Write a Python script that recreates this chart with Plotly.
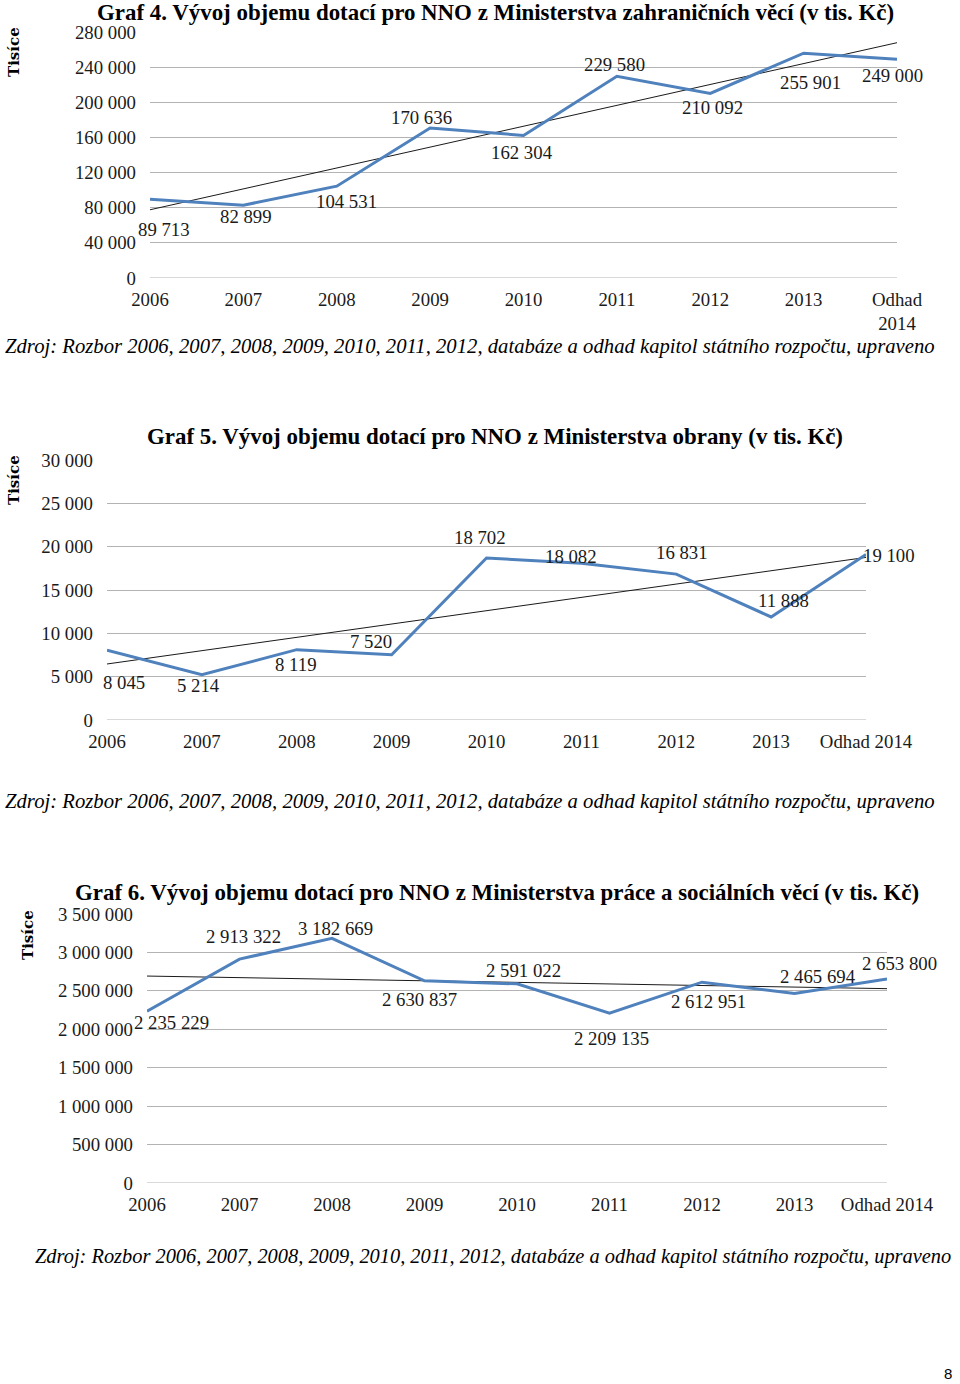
import numpy as np
import plotly.graph_objects as go

# ---------------- data ----------------
cats1 = ["2006", "2007", "2008", "2009", "2010", "2011", "2012", "2013", "Odhad<br>2014"]
vals1 = [89713, 82899, 104531, 170636, 162304, 229580, 210092, 255901, 249000]

cats2 = ["2006", "2007", "2008", "2009", "2010", "2011", "2012", "2013", "Odhad 2014"]
vals2 = [8045, 5214, 8119, 7520, 18702, 18082, 16831, 11888, 19100]

cats3 = ["2006", "2007", "2008", "2009", "2010", "2011", "2012", "2013", "Odhad 2014"]
vals3 = [2235229, 2913322, 3182669, 2630837, 2591022, 2209135, 2612951, 2465694, 2653800]

ticks1 = [0, 40000, 80000, 120000, 160000, 200000, 240000, 280000]
ticks2 = [0, 5000, 10000, 15000, 20000, 25000, 30000]
ticks3 = [0, 500000, 1000000, 1500000, 2000000, 2500000, 3000000, 3500000]

titles = [
    "Graf 4. Vývoj objemu dotací pro NNO z Ministerstva zahraničních věcí (v tis. Kč)",
    "Graf 5. Vývoj objemu dotací pro NNO z Ministerstva obrany (v tis. Kč)",
    "Graf 6. Vývoj objemu dotací pro NNO z Ministerstva práce a sociálních věcí (v tis. Kč)",
]
source = "Zdroj: Rozbor 2006, 2007, 2008, 2009, 2010, 2011, 2012, databáze a odhad kapitol státního rozpočtu, upraveno"
ylabel = "Tisíce"
page_no = "8"

# ---------------- style / layout (pixels, page coordinates) ----------------
W, H = 960, 1384
LINE_COLOR = "#4f81bd"
GRID_COLOR = "#b3b3b3"
SERIF = "Liberation Serif"
LBL = 18.8

# plot boxes: (x_left, x_right, y_top_px, y_bottom_px)
boxes = [(150, 897, 32, 278), (107, 866, 460, 720), (147, 887, 914, 1183)]
title_pos = [(495, 13), (495, 437), (497, 892)]
source_pos = [(3, 347), (3, 801), (33, 1256)]
source_size = [20.7, 20.7, 20.4]
ylabel_pos = [(14, 52), (14, 480), (28, 935)]

# label offsets (dx, dy in px, dy positive = down)
offs1 = [(14, 30), (3, 11), (10, 15), (-9, -11), (-2, 17), (-2, -12), (2, 14), (7, 29), (-5, 16)]
offs2 = [(17, 32), (-3, 11), (-1, 15), (-21, -13), (-7, -20), (-10, -7), (6, -22), (12, -16), (23, 1)]
offs3 = [(24, 11), (4, -23), (3, -10), (-5, 19), (6, -13), (2, 25), (6, 19), (23, -17), (12, -16)]


def fmt(v):
    return f"{v:,}".replace(",", " ")


def px_x(p):
    return p / W


def px_y(p):
    return 1 - p / H


fig = go.Figure()
datasets = [(cats1, vals1, ticks1, offs1), (cats2, vals2, ticks2, offs2), (cats3, vals3, ticks3, offs3)]
annotations = []

for i, (cats, vals, ticks, offs) in enumerate(datasets):
    n = i + 1
    xa = "x" if n == 1 else f"x{n}"
    ya = "y" if n == 1 else f"y{n}"
    xs = list(range(len(cats)))
    # trend line (least squares through the data)
    k, b = np.polyfit(xs, vals, 1)
    trend = [k * x + b for x in xs]
    fig.add_trace(go.Scatter(x=xs, y=trend, mode="lines", line=dict(color="#1a1a1a", width=1),
                             xaxis=xa, yaxis=ya, showlegend=False, hoverinfo="skip", cliponaxis=False))
    fig.add_trace(go.Scatter(x=xs, y=vals, mode="lines", line=dict(color=LINE_COLOR, width=3),
                             xaxis=xa, yaxis=ya, showlegend=False, cliponaxis=False))
    for x, v, (dx, dy) in zip(xs, vals, offs):
        annotations.append(dict(x=x, y=v, xref=xa, yref=ya, text=fmt(v), showarrow=False,
                                xshift=dx, yshift=-dy, font=dict(family=SERIF, size=LBL, color="#1a1a1a")))

    xl, xr, yt, yb = boxes[i]
    axx = dict(domain=[px_x(xl), px_x(xr)], range=[0, len(cats) - 1], tickmode="array",
               tickvals=xs, ticktext=cats, showgrid=False, zeroline=False, automargin=False,
               showline=False, ticks="", ticklabelstandoff=8,
               tickfont=dict(family=SERIF, size=LBL, color="#1a1a1a"), anchor=ya)
    axy = dict(domain=[px_y(yb), px_y(yt)], range=[0, ticks[-1]], tickmode="array",
               tickvals=ticks, ticktext=[fmt(t) for t in ticks], showgrid=True, automargin=False,
               gridcolor=GRID_COLOR, gridwidth=1, zeroline=False, showline=False, ticks="",
               ticklabelstandoff=13, tickfont=dict(family=SERIF, size=LBL, color="#1a1a1a"), anchor=xa)
    fig.update_layout(**{("xaxis" if n == 1 else f"xaxis{n}"): axx,
                         ("yaxis" if n == 1 else f"yaxis{n}"): axy})
    # baseline (0) grid line
    fig.add_shape(type="line", xref=f"{xa} domain", yref=ya, x0=0, x1=1, y0=0, y1=0,
                  line=dict(color=GRID_COLOR, width=1))

    tx, ty = title_pos[i]
    annotations.append(dict(x=px_x(tx), y=px_y(ty), xref="paper", yref="paper", text=f"<b>{titles[i]}</b>",
                            showarrow=False, xanchor="center", yanchor="middle",
                            font=dict(family=SERIF, size=22.9, color="#000000")))
    sx, sy = source_pos[i]
    annotations.append(dict(x=px_x(sx), y=px_y(sy), xref="paper", yref="paper", text=f"<i>{source}</i>",
                            showarrow=False, xanchor="left", yanchor="middle",
                            font=dict(family=SERIF, size=source_size[i], color="#000000")))
    lx, ly = ylabel_pos[i]
    annotations.append(dict(x=px_x(lx), y=px_y(ly), xref="paper", yref="paper", text=f"<b>{ylabel}</b>",
                            showarrow=False, xanchor="center", yanchor="middle", textangle=-90,
                            font=dict(family="DejaVu Serif", size=15, color="#000000")))

annotations.append(dict(x=px_x(948), y=px_y(1373), xref="paper", yref="paper", text=page_no,
                        showarrow=False, xanchor="center", yanchor="middle",
                        font=dict(family="Liberation Sans", size=15, color="#000000")))

fig.update_layout(width=W, height=H, margin=dict(l=0, r=0, t=0, b=0, autoexpand=False),
                  paper_bgcolor="white", plot_bgcolor="white", annotations=annotations,
                  showlegend=False)

fig.write_html("out.html", config={"displayModeBar": False},
               post_script="document.body.style.margin='0';document.body.style.overflow='hidden';")
